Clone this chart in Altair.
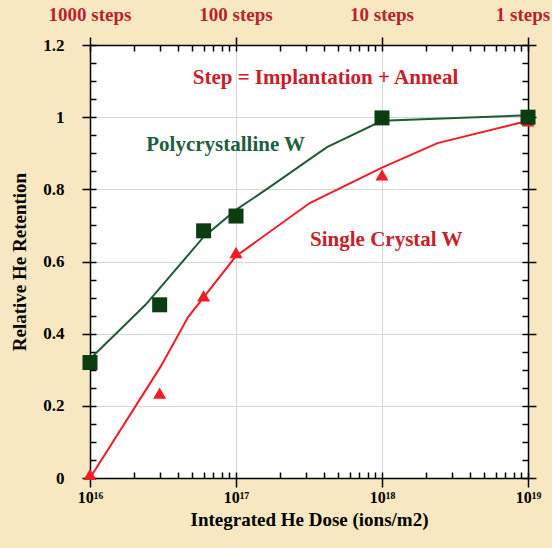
import altair as alt
import pandas as pd

# Measured points
poly_dose = [1e16, 3e16, 6e16, 1e17, 1e18, 1e19]
poly_ret = [0.32, 0.48, 0.685, 0.726, 0.998, 1.0]
sc_dose = [1e16, 3e16, 6e16, 1e17, 1e18, 1e19]
sc_ret = [0.01, 0.235, 0.505, 0.625, 0.84, 0.99]

# Fitted curves (polyline vertices)
poly_fit_dose = [1e16, 2.4e16, 6e16, 1e17, 1.7e17, 4.2e17, 1e18, 1e19]
poly_fit_ret = [0.33, 0.48, 0.668, 0.743, 0.806, 0.917, 0.99, 1.005]
sc_fit_dose = [1e16, 3.06e16, 4.7e16, 1e17, 3.2e17, 1e18, 2.4e18, 1e19]
sc_fit_ret = [0.0, 0.31, 0.446, 0.615, 0.762, 0.86, 0.928, 0.99]

step_dose = [1e16, 1e17, 1e18, 1e19]
step_labels = ["1000 steps", "100 steps", "10 steps", "1 steps"]

x_major = [1e16, 1e17, 1e18, 1e19]
x_all = [k * 10.0 ** d for d in (16, 17, 18) for k in range(1, 10)] + [1e19]
y_major = [0, 0.2, 0.4, 0.6, 0.8, 1.0, 1.2]
y_all = [round(i * 0.05, 2) for i in range(25)]

FONT = "Liberation Serif"
GREEN_LINE = "#1f5c35"
GREEN_MARK = "#0b3d10"
RED = "#f01c26"
TEXT_RED = "#c8202a"
TEXT_GREEN = "#1d6040"
STEP_RED = "#b8232a"

poly_pts = pd.DataFrame({"dose": poly_dose, "ret": poly_ret})
sc_pts = pd.DataFrame({"dose": sc_dose, "ret": sc_ret})
poly_fit = pd.DataFrame({"dose": poly_fit_dose, "ret": poly_fit_ret})
sc_fit = pd.DataFrame({"dose": sc_fit_dose, "ret": sc_fit_ret})

xscale = alt.Scale(type="log", domain=[1e16, 1e19], nice=False)
yscale = alt.Scale(domain=[0, 1.2], nice=False)

INNER = alt.ExprRef(expr="-6")
common_tick = dict(tickColor="black", tickWidth=1.5, labels=False, grid=False, title=None)

x_main = alt.Axis(orient="bottom", values=x_major, tickSize=9, tickColor="black", tickWidth=1.5,
                  domainColor="black", domainWidth=1.5, grid=True, gridColor="#d6d6d6",
                  labelExpr="datum.value < 5e16 ? '10¹⁶' : datum.value < 5e17 ? '10¹⁷' : datum.value < 5e18 ? '10¹⁸' : '10¹⁹'",
                  labelFont=FONT, labelFontWeight="bold", labelFontSize=16, labelColor="black",
                  labelPadding=2, labelFlush=False,
                  title="Integrated He Dose (ions/m2)", titleFont=FONT, titleFontWeight="bold",
                  titleFontSize=19, titleColor="black", titlePadding=5)
y_main = alt.Axis(orient="left", values=y_major, tickSize=8, tickColor="black", tickWidth=1.5,
                  domainColor="black", domainWidth=1.5, grid=True, gridColor="#d6d6d6",
                  format="~g", labelFont=FONT, labelFontWeight="bold", labelFontSize=17,
                  labelColor="black", labelPadding=18, labelFlush=False,
                  title="Relative He Retention", titleFont=FONT, titleFontWeight="bold",
                  titleFontSize=19, titleColor="black", titlePadding=13)
x_bottom_in = alt.Axis(orient="bottom", values=x_all, tickSize=INNER, domain=False, **common_tick)
y_left_in = alt.Axis(orient="left", values=y_all, tickSize=INNER, domain=False, **common_tick)
x_top_out = alt.Axis(orient="top", values=x_major, tickSize=8, domain=True, domainColor="black",
                     domainWidth=1.5, **common_tick)
y_right_out = alt.Axis(orient="right", values=y_major, tickSize=8, domain=True, domainColor="black",
                       domainWidth=1.5, **common_tick)
x_top_in = alt.Axis(orient="top", values=x_all, tickSize=INNER, domain=False, **common_tick)
y_right_in = alt.Axis(orient="right", values=y_all, tickSize=INNER, domain=False, **common_tick)

green_line = alt.Chart(poly_fit).mark_line(color=GREEN_LINE, strokeWidth=2).encode(
    x=alt.X("dose:Q", scale=xscale, axis=x_main),
    y=alt.Y("ret:Q", scale=yscale, axis=y_main),
)
red_line = alt.Chart(sc_fit).mark_line(color=RED, strokeWidth=2).encode(
    x=alt.X("dose:Q", scale=xscale, axis=x_bottom_in),
    y=alt.Y("ret:Q", scale=yscale, axis=y_left_in),
)
red_pts = alt.Chart(sc_pts).mark_point(shape="triangle-up", filled=True, size=170, color=RED, opacity=1).encode(
    x=alt.X("dose:Q", scale=xscale, axis=x_top_in),
    y=alt.Y("ret:Q", scale=yscale, axis=y_right_in),
)
green_pts = alt.Chart(poly_pts).mark_point(shape="square", filled=True, size=225, color=GREEN_MARK, opacity=1).encode(
    x=alt.X("dose:Q", scale=xscale, axis=x_top_out),
    y=alt.Y("ret:Q", scale=yscale, axis=y_right_out),
)

ann = pd.DataFrame({
    "dose": [4.1e17, 8.5e16, 1.07e18],
    "ret": [1.109, 0.923, 0.66],
    "label": ["Step = Implantation + Anneal", "Polycrystalline W", "Single Crystal W"],
    "col": [TEXT_RED, TEXT_GREEN, TEXT_RED],
})
ann_layer = alt.Chart(ann).mark_text(font=FONT, fontWeight="bold", fontSize=21, baseline="middle").encode(
    x=alt.X("dose:Q", scale=xscale, axis=None),
    y=alt.Y("ret:Q", scale=yscale, axis=None),
    text="label:N",
    color=alt.Color("col:N", scale=None),
)

steps = pd.DataFrame({"dose": step_dose, "label": step_labels})
steps_main = alt.Chart(steps.iloc[:3]).mark_text(font=FONT, fontWeight="bold", fontSize=19,
                                                 color=STEP_RED, baseline="middle").encode(
    x=alt.X("dose:Q", scale=xscale, axis=None),
    y=alt.value(-30),
    text="label:N",
)
steps_last = alt.Chart(steps.iloc[3:]).mark_text(font=FONT, fontWeight="bold", fontSize=19,
                                                 color=STEP_RED, baseline="middle", dx=-5).encode(
    x=alt.X("dose:Q", scale=xscale, axis=None),
    y=alt.value(-30),
    text="label:N",
)

chart = alt.layer(green_line, red_line, red_pts, green_pts, ann_layer, steps_main, steps_last).resolve_axis(
    x="independent", y="independent"
).properties(
    width=438, height=433,
    autosize=alt.AutoSizeParams(type="none"),
    padding={"left": 90, "top": 45, "right": 24, "bottom": 70},
    background="#f7e8c2",
).configure_view(fill="white", stroke=None)

chart.save("out.html", embed_options={"renderer": "svg", "actions": False})
